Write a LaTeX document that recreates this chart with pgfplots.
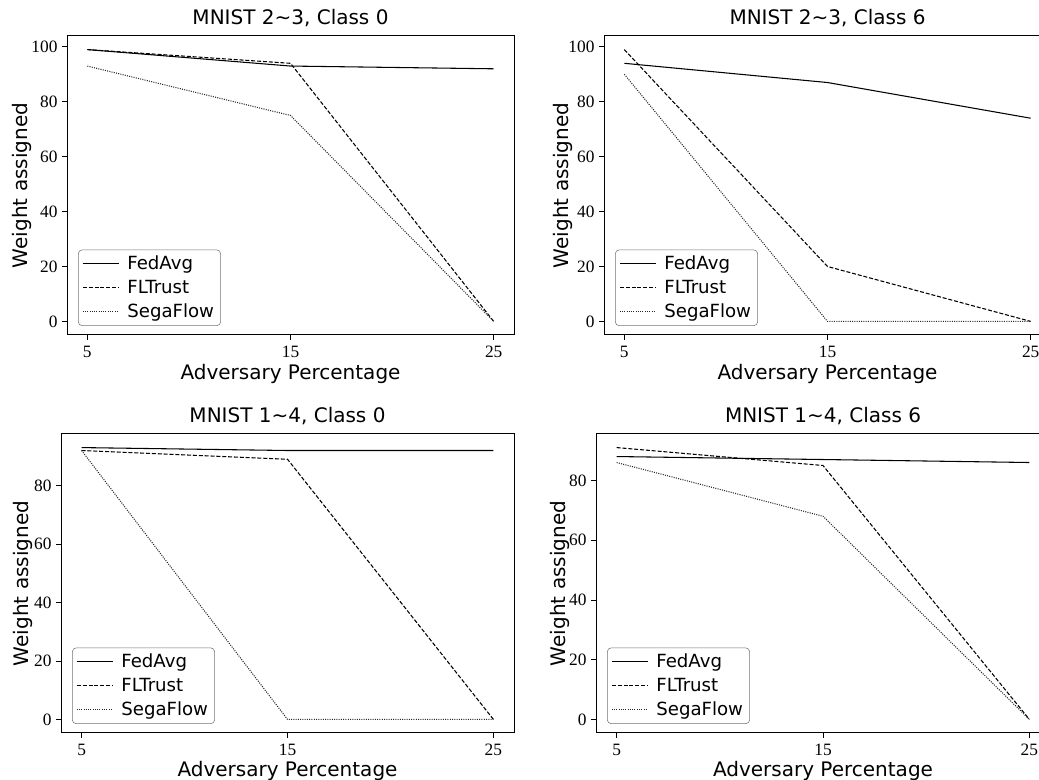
\documentclass[border=0pt]{standalone}
\usepackage{fontspec}
\setmainfont{DejaVu Sans}
\newfontfamily\tickfont{Liberation Serif}
\usepackage{pgfplots}
\pgfplotsset{compat=1.18}

% shared look of the four panels
\pgfplotsset{
  panel/.style 2 args={
    scale only axis,
    width=#1, height=224.25pt,
    xmin=4, xmax=26,
    xtick={5,15,25},
    ytick={0,20,40,60,80,100},
    tick align=outside,
    tick pos=left,
    major tick length=3.6pt,
    tick style={black, line width=0.6pt},
    axis line style={line width=0.75pt},
    /pgf/number format/assume math mode=true,
    tick label style={font=\tickfont\fontsize{13}{15}\selectfont},
    xticklabel style={yshift=-1pt},
    title style={font=\fontsize{15}{18}\selectfont, anchor=base, yshift=2.5pt},
    xlabel={Adversary Percentage},
    ylabel={Weight assigned},
    label style={font=\fontsize{15}{18}\selectfont},
    xlabel style={at={(0.5,0)}, anchor=base, yshift=-33.5pt},
    ylabel style={at={(axis description cs:#2,0.5)}, anchor=base},
    legend cell align=left,
    legend style={at={(0,0)}, anchor=south west, xshift=8.25pt, yshift=6.75pt,
      font=\fontsize{13.6}{16}\selectfont, draw=black!55, fill=white,
      fill opacity=0.8, text opacity=1, rounded corners=3pt,
      inner xsep=3pt, inner ysep=2.5pt, row sep=2.4pt},
    legend image code/.code={\draw[##1] (0pt,0pt) -- (27pt,0pt); \path (31pt,0pt);},
  },
  bottomrow/.style={xlabel style={yshift=1.2pt}},
  fedavg/.style={black, line width=0.8pt, solid},
  fltrust/.style={black, line width=0.8pt, dash pattern=on 3pt off 1.4pt},
  segaflow/.style={black!85, line width=0.8pt, dash pattern=on 0.75pt off 0.95pt},
}

\begin{document}
\begin{tikzpicture}

% MNIST 2~3, class 0
\begin{axis}[panel={335.25pt}{-0.0873}, at={(50.25pt,333.75pt)},
  ymin=-4.95, ymax=103.95, title={MNIST 2\textasciitilde3, Class 0}]
\addplot[fedavg] coordinates {(5,99) (15,93) (25,92)};
\addplot[fltrust] coordinates {(5,99) (15,94) (25,0)};
\addplot[segaflow] coordinates {(5,93) (15,75) (25,0)};
\legend{FedAvg, FLTrust, SegaFlow}
\end{axis}

% MNIST 2~3, class 6
\begin{axis}[panel={335.25pt}{-0.0805}, at={(453pt,333.75pt)},
  ymin=-4.95, ymax=103.95, title={MNIST 2\textasciitilde3, Class 6}]
\addplot[fedavg] coordinates {(5,94) (15,87) (25,74)};
\addplot[fltrust] coordinates {(5,99) (15,20) (25,0)};
\addplot[segaflow] coordinates {(5,90) (15,0) (25,0)};
\legend{FedAvg, FLTrust, SegaFlow}
\end{axis}

% MNIST 1~4, class 0
\begin{axis}[panel={339.75pt}{-0.0728}, bottomrow, at={(45.75pt,35.25pt)},
  ymin=-4.65, ymax=97.65, title={MNIST 1\textasciitilde4, Class 0}]
\addplot[fedavg] coordinates {(5,93) (15,92) (25,92)};
\addplot[fltrust] coordinates {(5,92) (15,89) (25,0)};
\addplot[segaflow] coordinates {(5,92) (15,0) (25,0)};
\legend{FedAvg, FLTrust, SegaFlow}
\end{axis}

% MNIST 1~4, class 6
\begin{axis}[panel={340.5pt}{-0.068}, bottomrow, at={(447pt,35.25pt)},
  ymin=-4.55, ymax=95.55, title={MNIST 1\textasciitilde4, Class 6}]
\addplot[fedavg] coordinates {(5,88) (15,87) (25,86)};
\addplot[fltrust] coordinates {(5,91) (15,85) (25,0)};
\addplot[segaflow] coordinates {(5,86) (15,68) (25,0)};
\legend{FedAvg, FLTrust, SegaFlow}
\end{axis}

\pgfresetboundingbox
\useasboundingbox (0,0) rectangle (779.25pt,585pt);
\end{tikzpicture}
\end{document}
